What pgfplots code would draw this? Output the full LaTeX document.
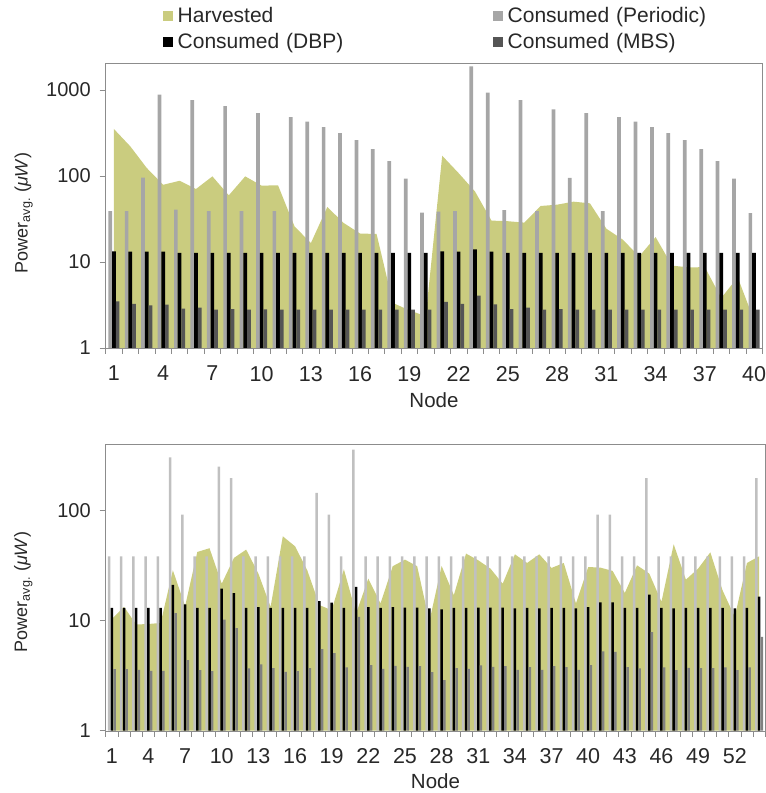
\documentclass[border=0pt]{standalone}
\usepackage{fontspec}
\setmainfont{Liberation Sans}
\usepackage{pgfplots}
\usepackage{pgfplotstable}
\pgfplotsset{compat=1.18}

\definecolor{harv}{RGB}{202,204,127}
\definecolor{perA}{RGB}{166,166,166}
\definecolor{mbsA}{RGB}{85,85,85}
\definecolor{perB}{RGB}{192,192,192}
\definecolor{mbsB}{RGB}{128,128,128}
\definecolor{axgray}{RGB}{140,140,140}
\definecolor{txt}{RGB}{40,40,40}

% node harvested periodic dbp mbs
\pgfplotstableread{
n h p d m
1 352 39 13.3 3.49
2 221 39 13.2 3.25
3 124 95.6 13.2 3.13
4 79 883 13.2 3.19
5 88 40.6 12.8 2.87
6 70.6 765 12.8 2.94
7 99 39 12.8 2.79
8 59.6 651 12.8 2.84
9 99 39 12.8 2.79
10 77.2 540 12.8 2.81
11 78 39 12.8 2.79
12 26 485 12.8 2.79
13 16.6 428 12.8 2.79
14 43.6 371 12.8 2.79
15 28.4 316 12.8 2.79
16 21.4 262 12.8 2.79
17 21.2 206 12.8 2.79
18 3.34 149 12.8 2.79
19 2.74 93 12.8 2.79
20 2.34 37.5 12.8 2.79
21 172 38.5 13.3 3.43
22 108 39 13.2 3.25
23 66 1884 14.0 4.06
24 30.3 931 13.2 3.22
25 29.8 40 12.8 2.84
26 28.7 765 12.8 2.94
27 44.8 39 12.8 2.79
28 46.4 596 12.8 2.84
29 50.3 94.8 12.8 2.79
30 48.1 540 12.8 2.79
31 24.4 39 12.8 2.79
32 18.2 485 12.8 2.79
33 11.6 428 12.8 2.79
34 19.5 371 12.8 2.79
35 9.07 316 12.8 2.79
36 8.67 262 12.8 2.79
37 8.7 206 12.8 2.79
38 3.82 149 12.8 2.79
39 6.63 93 12.8 2.79
40 2.1 37 12.8 2.79
}\topdata

\pgfplotstableread{
n h p d m
1 10.3 38.3 13.0 3.62
2 13.3 38.3 13.0 3.62
3 9.2 38.3 13.0 3.57
4 9.3 38.3 13.0 3.50
5 9.5 38.3 13.0 3.50
6 28.6 302 21.1 11.7
7 13.5 91.4 14.0 4.37
8 41.9 38.3 13.0 3.55
9 45.3 38.3 13.0 3.48
10 21.6 249 19.5 10.2
11 37.0 196 17.7 8.52
12 44 38.3 13.0 3.67
13 26.7 38.3 13.2 3.99
14 13.3 38.3 13.0 3.70
15 58.1 38.3 13.0 3.42
16 47.2 38.3 13.0 3.48
17 28.6 38.3 13.0 3.70
18 13.8 144 15.0 5.50
19 12.4 91.4 14.5 5.06
20 29.2 38.3 13.0 3.75
21 11.6 355 20.2 10.8
22 24.0 38.3 13.2 3.94
23 14.3 38.3 13.0 3.65
24 31.1 38.3 13.2 3.88
25 35.7 38.3 13.1 3.80
26 31.1 38.3 13.1 3.85
27 9.8 38.3 12.9 3.40
28 31.3 38.3 12.6 2.88
29 17.0 38.3 13.0 3.70
30 40.5 38.3 13.0 3.65
31 35.2 38.3 13.1 3.91
32 29.6 38.3 13.1 3.80
33 21.6 38.3 13.1 3.85
34 39.9 38.3 12.9 3.57
35 33.3 38.3 13.0 3.78
36 39.9 38.3 12.9 3.57
37 30.0 38.3 13.0 3.85
38 33.3 38.3 13.0 3.78
39 14.3 38.3 12.9 3.57
40 30.6 38.3 13.2 3.94
41 30.2 91.4 14.6 5.24
42 28.2 91.4 14.6 5.20
43 17.8 38.3 13.0 3.78
44 31.7 38.3 13.0 3.67
45 26.7 196 17.2 7.84
46 14.8 38.3 13.0 3.75
47 49.2 38.3 12.9 3.55
48 23.5 38.3 13.0 3.72
49 29.6 38.3 13.0 3.70
50 41.6 38.3 13.0 3.70
51 18.8 38.3 13.0 3.75
52 10.8 38.3 12.9 3.55
53 33.3 38.3 13.0 3.75
54 38.3 196 16.5 7.11
}\botdata

\begin{document}
\begin{tikzpicture}[x=1pt,y=1pt]
\path[use as bounding box] (0,0) rectangle (766,793);

\begin{axis}[
  scale only axis, anchor=south west,
  at={(105.7pt,445pt)}, width=656.6pt, height=285pt,
  ymode=log, ymin=1, ymax=2060, xmin=0.5, xmax=40.5,
  axis line style={draw=axgray},
  tick style={draw=axgray, line width=0.6pt},
  tick align=outside, major tick length=6pt,
  xtick pos=lower, ytick pos=left,
  yminorticks=false,
  ytick={1,10,100,1000}, yticklabels={1,10,100,1000},
  yticklabel style={font=\fontsize{20}{24}\selectfont, text=txt, xshift=-5.5pt},
  xtick={0.5,1.5,...,40.5}, xticklabels={},
  extra x ticks={1,4,...,40},
  extra x tick labels={1,4,7,10,13,16,19,22,25,28,31,34,37,40},
  extra x tick style={major tick length=0pt},
  xticklabel style={font=\fontsize{21.5}{24}\selectfont, text=txt, yshift=-14.5pt},
  xlabel={Node},
  xlabel style={font=\fontsize{20.5}{24}\selectfont, text=txt, at={(axis description cs:0.5,0)}, anchor=center, yshift=-52pt},
  ylabel={Power\textsubscript{avg.} (\textit{μW})},
  ylabel style={font=\fontsize{18}{22}\selectfont, text=txt, at={(axis description cs:-0.125,0.474)}, anchor=center},
  legend columns=2,
  legend style={at={(axis description cs:0.0868,1.195)}, anchor=north west,
    draw=none, fill=none, inner sep=0pt, outer sep=0pt,
    font=\fontsize{21}{25}\selectfont, text=txt,
    column sep=5pt, row sep=9.5pt,
    nodes={inner sep=0pt, text width=310pt, align=left}},
]
\addplot[fill=harv, draw=none, legend image code/.code={\fill[fill=harv] (0pt,-5pt) rectangle (10pt,5pt);}] table[x=n, y=h] {\topdata} \closedcycle;
\addlegendentry{Harvested}
\addplot[ybar, bar width=3.7pt, bar shift=-3.7pt, fill=perA, draw=none, legend image code/.code={\fill[fill=perA] (0pt,-5pt) rectangle (10pt,5pt);}] table[x=n, y=p] {\topdata};
\addlegendentry{Consumed (Periodic)}
\addplot[ybar, bar width=3.7pt, bar shift=0pt, fill=black, draw=none, legend image code/.code={\fill[fill=black] (0pt,-5pt) rectangle (10pt,5pt);}] table[x=n, y=d] {\topdata};
\addlegendentry{Consumed (DBP)}
\addplot[ybar, bar width=3.7pt, bar shift=3.7pt, fill=mbsA, draw=none, legend image code/.code={\fill[fill=mbsA] (0pt,-5pt) rectangle (10pt,5pt);}] table[x=n, y=m] {\topdata};
\addlegendentry{Consumed (MBS)}
\end{axis}

\begin{axis}[
  scale only axis, anchor=south west,
  at={(105.7pt,62.3pt)}, width=659.6pt, height=286.7pt,
  ymode=log, ymin=1, ymax=400, xmin=0.5, xmax=54.5,
  axis line style={draw=axgray},
  tick style={draw=axgray, line width=0.6pt},
  tick align=outside, major tick length=6pt,
  xtick pos=lower, ytick pos=left,
  yminorticks=false,
  ytick={1,10,100}, yticklabels={1,10,100},
  yticklabel style={font=\fontsize{20}{24}\selectfont, text=txt, xshift=-5.5pt},
  xtick={0.5,1.5,...,54.5}, xticklabels={},
  extra x ticks={1,4,...,52},
  extra x tick labels={1,4,7,10,13,16,19,22,25,28,31,34,37,40,43,46,49,52},
  extra x tick style={major tick length=0pt},
  xticklabel style={font=\fontsize{21.5}{24}\selectfont, text=txt, yshift=-14.5pt},
  xlabel={Node},
  xlabel style={font=\fontsize{20.5}{24}\selectfont, text=txt, at={(axis description cs:0.5,0)}, anchor=center, yshift=-50pt},
  ylabel={Power\textsubscript{avg.} (\textit{μW})},
  ylabel style={font=\fontsize{18}{22}\selectfont, text=txt, at={(axis description cs:-0.125,0.484)}, anchor=center},
]
\addplot[fill=harv, draw=none] table[x=n, y=h] {\botdata} \closedcycle;
\addplot[ybar, bar width=2.5pt, bar shift=-2.8pt, fill=perB, draw=none] table[x=n, y=p] {\botdata};
\addplot[ybar, bar width=2.5pt, bar shift=0pt, fill=black, draw=none] table[x=n, y=d] {\botdata};
\addplot[ybar, bar width=2.5pt, bar shift=2.7pt, fill=mbsB, draw=none] table[x=n, y=m] {\botdata};
\end{axis}
\end{tikzpicture}
\end{document}
